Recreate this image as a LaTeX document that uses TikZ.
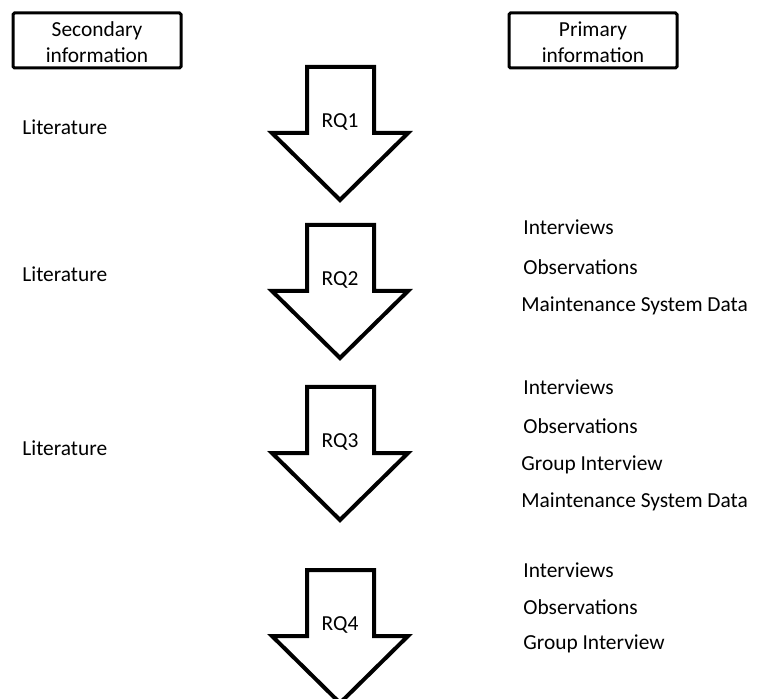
\documentclass[tikz,border=0pt]{standalone}
\usepackage{fontspec}
\setmainfont{Carlito}
\begin{document}
\begin{tikzpicture}[x=0.5pt,y=-0.5pt,
  font=\fontsize{10.7}{13}\selectfont,
  header/.style={draw,line width=1.5pt,rounded corners=0.8pt,minimum width=84pt,
    minimum height=27.5pt,inner sep=0pt},
  headtext/.style={anchor=base,inner sep=0pt},
  item/.style={anchor=base west,inner sep=0pt},
  rqarrow/.style={draw,line width=2pt,miter limit=20,fill=white},
  rqlabel/.style={inner sep=0pt}]
\useasboundingbox (0,0) rectangle (759,699);

% column headings: frame plus two lines of text
\node[header] (sec) at (97,40.5) {};
\node[headtext] (sec1) at (97,37) {Secondary};
\node[headtext] (sec2) at (97,63) {information};
\node[header] (pri) at (593,40.5) {};
\node[headtext] (pri1) at (593,37) {Primary};
\node[headtext] (pri2) at (593,63) {information};

% block arrows, one per research question (shaft 66 high, head 67 high)
\foreach \t/\q in {67/1,225/2,387/3,570/4}{
  \draw[rqarrow] (307,\t) -- (374,\t) -- (374,\t+66) -- (408,\t+66)
    -- (340,\t+133) -- (272,\t+66) -- (307,\t+66) -- cycle;
  \node[rqlabel] (rq\q) at (340,\t+55) {RQ\q};
}

% secondary sources
\node[item] (lit1) at (22,135) {Literature};
\node[item] (lit2) at (22,282) {Literature};
\node[item] (lit3) at (22,455) {Literature};

% primary sources for RQ2
\node[item] (int2) at (523,235) {Interviews};
\node[item] (obs2) at (523,275) {Observations};
\node[item] (msd2) at (521,312) {Maintenance System Data};

% primary sources for RQ3
\node[item] (int3) at (523,395) {Interviews};
\node[item] (obs3) at (523,434) {Observations};
\node[item] (grp3) at (521,470) {Group Interview};
\node[item] (msd3) at (521,507) {Maintenance System Data};

% primary sources for RQ4
\node[item] (int4) at (523,577) {Interviews};
\node[item] (obs4) at (523,614) {Observations};
\node[item] (grp4) at (523,649) {Group Interview};
\end{tikzpicture}
\end{document}
